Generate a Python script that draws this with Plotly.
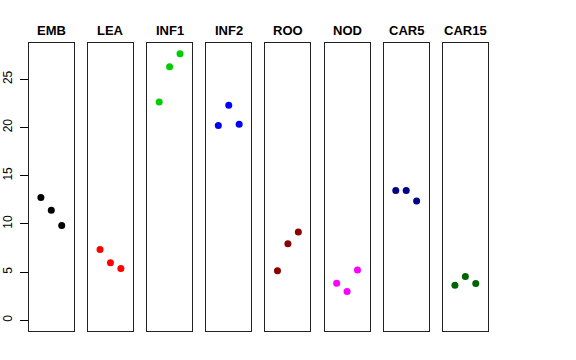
import plotly.graph_objects as go

tissues = ["EMB", "LEA", "INF1", "INF2", "ROO", "NOD", "CAR5", "CAR15"]
colors = ["#000000", "#FF0000", "#00CD00", "#0000FF", "#8B0000", "#FF00FF", "#00008B", "#006400"]
replicate = [1, 2, 3]
values = {
    "EMB": [12.73, 11.42, 9.83],
    "LEA": [7.34, 5.96, 5.37],
    "INF1": [22.64, 26.30, 27.65],
    "INF2": [20.19, 22.30, 20.33],
    "ROO": [5.13, 7.93, 9.17],
    "NOD": [3.85, 2.99, 5.23],
    "CAR5": [13.45, 13.45, 12.38],
    "CAR15": [3.65, 4.54, 3.81],
}
ytick_vals = [0, 5, 10, 15, 20, 25]

W, H = 576, 360
fig = go.Figure()
ymin, ymax = 0, 27.65
pad = (ymax - ymin) * 0.04
yr = [ymin - pad, ymax + pad]
xr = [0 - 4 * 0.04, 4 + 4 * 0.04]

top_px, bot_px = 43, 331
ydom = [1 - bot_px / H, 1 - top_px / H]
layout = {}
for i, (t, c) in enumerate(zip(tissues, colors)):
    left = 28.8 + 59.15 * i
    right = left + 45
    xa = "xaxis" if i == 0 else f"xaxis{i+1}"
    ya = "yaxis" if i == 0 else f"yaxis{i+1}"
    xref = "x" if i == 0 else f"x{i+1}"
    yref = "y" if i == 0 else f"y{i+1}"
    fig.add_trace(go.Scatter(x=replicate, y=values[t], mode="markers",
                             marker=dict(color=c, size=7, line=dict(width=0)),
                             xaxis=xref, yaxis=yref, showlegend=False,
                             hovertemplate=t + ": %{y}<extra></extra>"))
    layout[xa] = dict(domain=[left / W, right / W], range=xr, showgrid=False,
                      zeroline=False, showticklabels=False, ticks="",
                      showline=True, mirror=True, linecolor="#222", linewidth=1,
                      anchor=yref)
    yd = dict(domain=ydom, range=yr, showgrid=False, zeroline=False,
              showline=True, mirror=True, linecolor="#222", linewidth=1,
              anchor=xref)
    if i == 0:
        yd.update(tickvals=ytick_vals, ticks="outside", ticklen=8, tickcolor="black",
                  tickangle=-90, tickfont=dict(family="Liberation Sans", size=12, color="black"),
                  ticklabelstandoff=3)
    else:
        yd.update(showticklabels=False, ticks="")
    layout[ya] = yd
    fig.add_annotation(text="<b>" + t + "</b>", x=(left + right) / 2 / W, y=1 - 30 / H,
                       xref="paper", yref="paper", xanchor="center", yanchor="middle",
                       showarrow=False, font=dict(family="Liberation Sans", size=13, color="black"))

fig.update_layout(width=W, height=H, margin=dict(l=0, r=0, t=0, b=0),
                  paper_bgcolor="white", plot_bgcolor="white", **layout)
fig.write_html("out.html", config={"displayModeBar": False},
               post_script="document.body.style.margin='0';document.body.style.overflow='hidden';")
